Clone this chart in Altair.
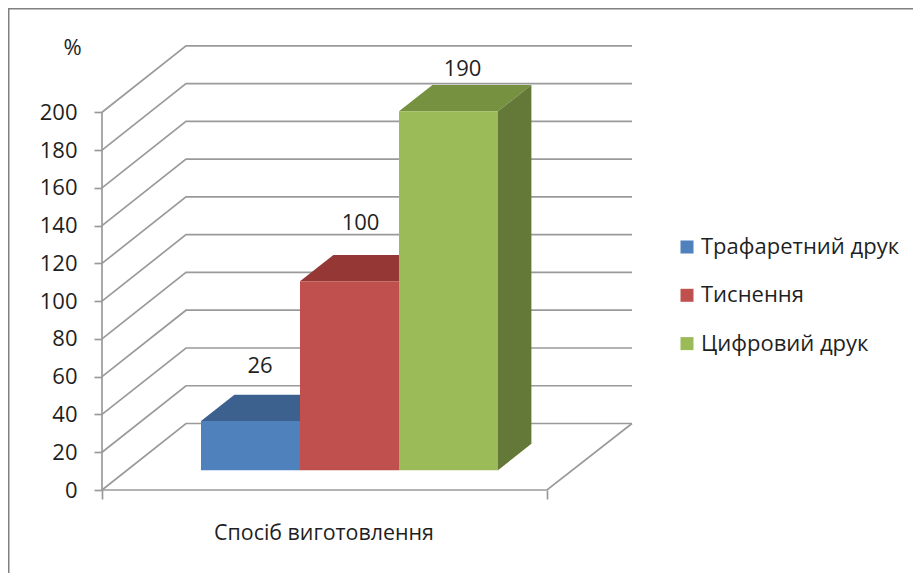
import altair as alt
import pandas as pd

# --- chart values ---
series = ["Трафаретний друк", "Тиснення", "Цифровий друк"]
values = [26, 100, 190]
front_colors = ["#4F81BD", "#C0504D", "#9BBB59"]
top_colors = ["#3C618F", "#943735", "#76913F"]
side_colors = ["#395A85", "#8A3230", "#647838"]
y_ticks = list(range(0, 201, 20))
x_title = "Спосіб виготовлення"
y_title = "%"

# --- projection of the 3-D look, in axis units ---
FLOOR_W, PLOT_W, PLOT_H = 445, 530, 444
Y_MAX = 235.1
WALL_DX, WALL_DY = 84, 35.2
BAR_X0, BAR_W, BAR_BASE = 99, 99, 10.5
BAR_DX, BAR_DY = 33.4, 14
LABEL_DX = [9.5, 11, 14]
LABEL_DY = [29, 31, 22.5]
FONT = "Open Sans"
INK = "#1f1f1f"
GRID = "#9a9a9a"

xs = alt.Scale(domain=[0, PLOT_W], nice=False, zero=False)
ys = alt.Scale(domain=[0, Y_MAX], nice=False, zero=False)
x_axis = alt.Axis(
    values=[0, FLOOR_W], labels=False, grid=False, domain=False,
    ticks=True, tickSize=9, tickColor=GRID, tickWidth=1.7,
    title=x_title, titleFont=FONT, titleFontSize=21.4, titleFontWeight="normal",
    titleColor=INK, titleX=221.5, titleY=43, titleAlign="center", titleBaseline="middle",
)
y_axis = alt.Axis(
    values=y_ticks, grid=False, domain=False,
    ticks=True, tickSize=8, tickColor=GRID, tickWidth=1.7,
    labelFont=FONT, labelFontSize=22, labelColor=INK, labelPadding=17,
    labelOverlap=False, labelFlush=False,
    title=y_title, titleAngle=0, titleFont=FONT, titleFontSize=22, titleFontWeight="normal",
    titleColor=INK, titleX=-30, titleY=1, titleAlign="center", titleBaseline="middle",
)
X = alt.X("x:Q", scale=xs, axis=x_axis)
Y = alt.Y("y:Q", scale=ys, axis=y_axis)

# gridlines (left wall + back wall)
grid_rows = []
for t in y_ticks:
    grid_rows += [
        {"t": t, "x": 0, "y": t},
        {"t": t, "x": WALL_DX, "y": t + WALL_DY},
        {"t": t, "x": PLOT_W, "y": t + WALL_DY},
    ]
grid = alt.Chart(pd.DataFrame(grid_rows)).mark_line(color=GRID, strokeWidth=1.7).encode(
    x=X, y=Y, detail="t:N"
)

floor = alt.Chart(pd.DataFrame([
    {"x": 0, "y": 0}, {"x": FLOOR_W, "y": 0}, {"x": PLOT_W, "y": WALL_DY}
])).mark_line(color=GRID, strokeWidth=1.7).encode(x=X, y=Y)

val_axis = alt.Chart(pd.DataFrame([{"x": 0, "y": 0}, {"x": 0, "y": 200}])).mark_line(
    color=GRID, strokeWidth=1.7
).encode(x=X, y=Y)

# bars
tops, sides, fronts, labels = [], [], [], []
for i, (name, v) in enumerate(zip(series, values)):
    x0 = BAR_X0 + i * BAR_W
    x1 = x0 + BAR_W
    h = BAR_BASE + v
    tops.append(alt.Chart(pd.DataFrame({
        "x": [x0, x0 + BAR_DX, x1, x1 + BAR_DX],
        "y": [h, h + BAR_DY, h + BAR_DY, h + BAR_DY],
        "y2": [h, h, h, h + BAR_DY],
    })).mark_area(color=top_colors[i], opacity=1, line=False).encode(x=X, y=Y, y2="y2:Q"))
    sides.append(alt.Chart(pd.DataFrame({
        "x": [x1, x1 + BAR_DX],
        "y": [h, h + BAR_DY],
        "y2": [BAR_BASE, BAR_BASE + BAR_DY],
    })).mark_area(color=side_colors[i], opacity=1, line=False).encode(x=X, y=Y, y2="y2:Q"))
    fronts.append({"series": name, "x": x0, "x2": x1, "y": h, "y2": BAR_BASE})
    labels.append({"x": (x0 + x1) / 2 + LABEL_DX[i], "y": h + LABEL_DY[i], "label": str(v)})

front = alt.Chart(pd.DataFrame(fronts)).mark_rect(opacity=1).encode(
    x=X, x2="x2:Q", y=Y, y2="y2:Q",
    color=alt.Color("series:N", scale=alt.Scale(domain=series, range=front_colors), legend=alt.Legend(
        title=None, orient="none", legendX=574, legendY=190, symbolType="square", symbolSize=169,
        symbolStrokeWidth=0, symbolOpacity=1, rowPadding=26.3, labelFont=FONT, labelFontSize=22,
        labelColor=INK, labelOffset=3, labelLimit=300,
    ), sort=series),
)

data_labels = alt.Chart(pd.DataFrame(labels)).mark_text(
    font=FONT, fontSize=22, color=INK, align="center", baseline="middle"
).encode(x=X, y=Y, text="label:N")

# outer frame
frame_top = alt.Chart(pd.DataFrame({"a": [0]})).mark_rule(color="#808080", strokeWidth=2).encode(
    x=alt.value(-94), x2=alt.value(820), y=alt.value(-37.5)
)
frame_left = alt.Chart(pd.DataFrame({"a": [0]})).mark_rule(color="#808080", strokeWidth=2).encode(
    x=alt.value(-93.5), y=alt.value(-38), y2=alt.value(536)
)

chart = alt.layer(
    grid, floor, val_axis, *tops, *sides, front, data_labels, frame_top, frame_left
).properties(
    width=PLOT_W, height=PLOT_H,
    padding={"left": 94, "top": 38, "right": 281, "bottom": 83},
    autosize=alt.AutoSizeParams(type="none"),
    background="white",
).configure_view(stroke=None)

chart.save("out.html", embed_options={"renderer": "svg", "actions": False})
